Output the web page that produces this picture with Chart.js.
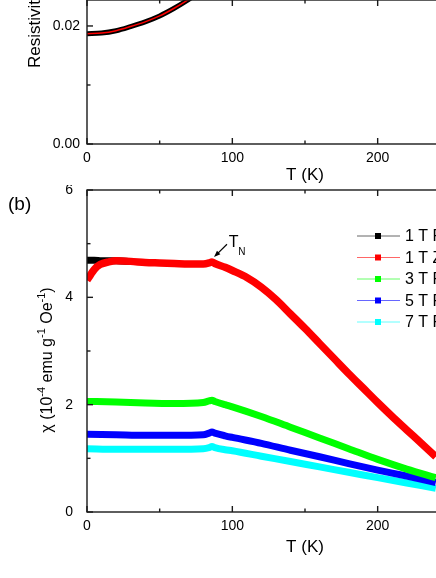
<!DOCTYPE html>
<html>
<head>
<meta charset="utf-8">
<script src="https://cdn.jsdelivr.net/npm/chart.js@4"></script>
<style>
html, body { margin: 0; padding: 0; overflow: hidden; background: #fff; width: 436px; height: 578px; }
canvas { position: absolute; left: 0; }
#rho { top: 0; }
#chi { top: 185px; }
</style>
</head>
<body>
<canvas id="rho" width="530" height="185"></canvas>
<canvas id="chi" width="530" height="393"></canvas>
<script>
const FONT = "'Liberation Sans', Arial, sans-serif";
const AXIS = "#1a1a1a";

// shared temperature axis
const tempTicks = [0, 50, 100, 150, 200, 250, 300];
const tempLabels = ["0", "", "100", "", "200", "", "300"];

// (a) resistivity
const rhoTemps = [0, 10, 20, 30, 40, 50, 60, 70, 80];
const rhoValues = [0.0187, 0.0188, 0.0192, 0.0199, 0.0207, 0.0217, 0.0230, 0.0245, 0.0262];
const rhoTicks = [0, 0.01, 0.02];
const rhoLabels = ["0.00", "", "0.02"];

// (b) susceptibility, 10^-4 emu/g/Oe
const zfcTemps = [0, 2, 5, 9, 15, 20, 30, 40, 50, 60, 70, 80, 84, 86, 88, 95, 100, 110, 120, 130, 140, 150, 160, 170, 180, 190, 200, 210, 220, 230, 240];
const zfc1T = [4.32, 4.40, 4.52, 4.61, 4.66, 4.68, 4.67, 4.65, 4.64, 4.63, 4.62, 4.62, 4.64, 4.66, 4.63, 4.56, 4.50, 4.37, 4.19, 3.96, 3.69, 3.42, 3.14, 2.86, 2.58, 2.31, 2.04, 1.78, 1.53, 1.28, 1.03];
const fc1Temps = [0, 5, 10, 15, 20, 30];
const fc1T = [4.69, 4.69, 4.68, 4.68, 4.68, 4.67];
const fcTemps = [0, 20, 40, 60, 80, 84, 86, 88, 95, 100, 120, 140, 160, 180, 200, 220, 240];
const fc3T = [2.06, 2.05, 2.03, 2.02, 2.04, 2.07, 2.08, 2.06, 2.00, 1.96, 1.78, 1.58, 1.38, 1.18, 0.98, 0.80, 0.64];
const fc5T = [1.45, 1.44, 1.43, 1.43, 1.44, 1.47, 1.49, 1.47, 1.42, 1.39, 1.28, 1.15, 1.03, 0.90, 0.78, 0.67, 0.55];
const fc7T = [1.18, 1.17, 1.17, 1.17, 1.18, 1.20, 1.22, 1.20, 1.16, 1.14, 1.04, 0.94, 0.84, 0.74, 0.64, 0.54, 0.44];
const chiTicks = [0, 1, 2, 3, 4, 5, 6];
const chiLabels = ["0", "", "2", "", "4", "", "6"];

const legendLabels = ["1 T FC", "1 T ZFC", "3 T FC", "5 T FC", "7 T FC"];
const legendColors = ["#000000", "#ff0000", "#00ff00", "#0000ff", "#00ffff"];

const pts = (xs, ys) => xs.map((t, i) => ({ x: t, y: ys[i] }));

function line(ctx, x1, y1, x2, y2) {
    ctx.beginPath();
    ctx.moveTo(x1, y1);
    ctx.lineTo(x2, y2);
    ctx.stroke();
}

// box frame with inward ticks, plus x title
const framePlugin = {
    id: "frame",
    afterDraw(chart, args, opts) {
        const { ctx, chartArea: a, scales: { x, y } } = chart;
        ctx.save();
        ctx.strokeStyle = AXIS;
        ctx.lineWidth = 1.4;
        ctx.strokeRect(a.left, a.top, a.right - a.left, a.bottom - a.top);
        x.ticks.forEach(t => {
            const px = x.getPixelForValue(t.value);
            const len = t.label ? 6 : 3.5;
            line(ctx, px, a.bottom, px, a.bottom - len);
            line(ctx, px, a.top, px, a.top + len);
        });
        y.ticks.forEach(t => {
            const py = y.getPixelForValue(t.value);
            const len = t.label ? 6 : 3.5;
            line(ctx, a.left, py, a.left + len, py);
            line(ctx, a.right, py, a.right - len, py);
        });
        ctx.fillStyle = "#000";
        ctx.font = "17px " + FONT;
        ctx.textAlign = "center";
        ctx.textBaseline = "middle";
        ctx.fillText("T (K)", (a.left + a.right) / 2, a.bottom + opts.titleOffset);
        ctx.restore();
    }
};

function xScale(pad) {
    return {
        type: "linear", min: 0, max: 300,
        afterBuildTicks: s => { s.ticks = tempTicks.map(v => ({ value: v })); },
        afterFit: s => { s.height = pad.h; s.paddingLeft = 0; s.paddingRight = 0; },
        grid: { display: false, drawTicks: false },
        border: { display: false },
        ticks: {
            autoSkip: false, maxRotation: 0, padding: 6, color: "#000",
            font: { family: FONT, size: 14 },
            callback: (v, i) => tempLabels[i]
        }
    };
}

function yScale(min, max, values, labels, padding) {
    return {
        type: "linear", min: min, max: max,
        afterBuildTicks: s => { s.ticks = values.map(v => ({ value: v })); },
        afterFit: s => { s.width = 87; s.paddingTop = 0; s.paddingBottom = 0; },
        grid: { display: false, drawTicks: false },
        border: { display: false },
        ticks: {
            autoSkip: false, padding: padding, color: "#000",
            font: { family: FONT, size: 14 },
            callback: (v, i) => labels[i]
        }
    };
}

const common = {
    responsive: false,
    animation: false,
    events: [],
    elements: { point: { radius: 0 } },
    plugins: { legend: { display: false }, tooltip: { enabled: false } }
};

// (a)
new Chart(document.getElementById("rho"), {
    type: "line",
    data: {
        datasets: [
            { data: pts(rhoTemps, rhoValues), borderColor: "#ff0000", borderWidth: 1.5, cubicInterpolationMode: "monotone", order: 0 },
            { data: pts(rhoTemps, rhoValues), borderColor: "#000000", borderWidth: 5, cubicInterpolationMode: "monotone", order: 1 }
        ]
    },
    options: Object.assign({}, common, {
        layout: { padding: { left: 0, right: 7, top: 0, bottom: 0 } },
        scales: {
            x: xScale({ h: 41 }),
            y: yScale(0, 0.0244, rhoTicks, rhoLabels, 7)
        },
        plugins: Object.assign({}, common.plugins, { frame: { titleOffset: 31 } })
    }),
    plugins: [framePlugin, {
        id: "rhoTitle",
        afterDraw(chart) {
            const ctx = chart.ctx;
            ctx.save();
            ctx.translate(40, 68);
            ctx.rotate(-Math.PI / 2);
            ctx.fillStyle = "#000";
            ctx.font = "17px " + FONT;
            ctx.textAlign = "left";
            ctx.textBaseline = "alphabetic";
            ctx.fillText("Resistivity (\u03A9 cm)", 0, 0);
            ctx.restore();
        }
    }]
});

// (b)
const chiSets = [fc1T, zfc1T, fc3T, fc5T, fc7T];
const chiTemps = [fc1Temps, zfcTemps, fcTemps, fcTemps, fcTemps];

new Chart(document.getElementById("chi"), {
    type: "line",
    data: {
        datasets: chiSets.map((vals, i) => ({
            label: legendLabels[i],
            data: pts(chiTemps[i], vals),
            borderColor: legendColors[i],
            borderWidth: i === 1 ? 7.5 : 7,
            cubicInterpolationMode: "monotone",
            order: i === 1 ? 0 : 1
        }))
    },
    options: Object.assign({}, common, {
        layout: { padding: { left: 0, right: 7, top: 5, bottom: 0 } },
        scales: {
            x: xScale({ h: 66 }),
            y: yScale(0, 6, chiTicks, chiLabels, 14)
        },
        plugins: Object.assign({}, common.plugins, { frame: { titleOffset: 35 } })
    }),
    plugins: [framePlugin, {
        id: "chiDecor",
        afterDraw(chart) {
            const { ctx, scales: { x, y } } = chart;
            ctx.save();
            ctx.fillStyle = "#000";
            ctx.textBaseline = "middle";

            // panel tag
            ctx.font = "19px " + FONT;
            ctx.textAlign = "left";
            ctx.fillText("(b)", 8, 20);

            // legend
            ctx.font = "16px " + FONT;
            legendLabels.forEach((lab, i) => {
                const yy = 51 + i * 21.5;
                ctx.strokeStyle = legendColors[i];
                ctx.globalAlpha = 0.6;
                ctx.lineWidth = 1;
                line(ctx, 357, yy, 400, yy);
                ctx.globalAlpha = 1;
                ctx.fillStyle = legendColors[i];
                ctx.fillRect(375, yy - 3, 6, 6);
                ctx.fillStyle = "#000";
                ctx.fillText(lab, 405, yy + 1);
            });

            // T_N arrow
            const tipX = x.getPixelForValue(87.4), tipY = y.getPixelForValue(4.75);
            const tailX = x.getPixelForValue(96.3), tailY = y.getPixelForValue(4.99);
            ctx.strokeStyle = "#000";
            ctx.lineWidth = 1.2;
            line(ctx, tailX, tailY, tipX + 3, tipY - 3);
            const ang = Math.atan2(tipY - tailY, tipX - tailX);
            ctx.beginPath();
            ctx.moveTo(tipX, tipY);
            ctx.lineTo(tipX - 7 * Math.cos(ang - 0.35), tipY - 7 * Math.sin(ang - 0.35));
            ctx.lineTo(tipX - 7 * Math.cos(ang + 0.35), tipY - 7 * Math.sin(ang + 0.35));
            ctx.closePath();
            ctx.fill();
            ctx.textBaseline = "alphabetic";
            ctx.font = "16px " + FONT;
            const tx = x.getPixelForValue(97.6), ty = y.getPixelForValue(4.94);
            ctx.fillText("T", tx, ty);
            ctx.font = "10px " + FONT;
            ctx.fillText("N", tx + 9.5, ty + 8);

            // rotated y title with superscripts
            const segs = [["\u03C7 (10", 0], ["-4", 1], [" emu g", 0], ["-1", 1], [" Oe", 0], ["-1", 1], [")", 0]];
            const big = "16px " + FONT, small = "11px " + FONT;
            let total = 0;
            segs.forEach(s => { ctx.font = s[1] ? small : big; total += ctx.measureText(s[0]).width; });
            ctx.translate(52, 175);
            ctx.rotate(-Math.PI / 2);
            let cx = -total / 2;
            segs.forEach(s => {
                ctx.font = s[1] ? small : big;
                ctx.fillText(s[0], cx, s[1] ? -7 : 0);
                cx += ctx.measureText(s[0]).width;
            });
            ctx.restore();
        }
    }]
});
</script>
</body>
</html>
